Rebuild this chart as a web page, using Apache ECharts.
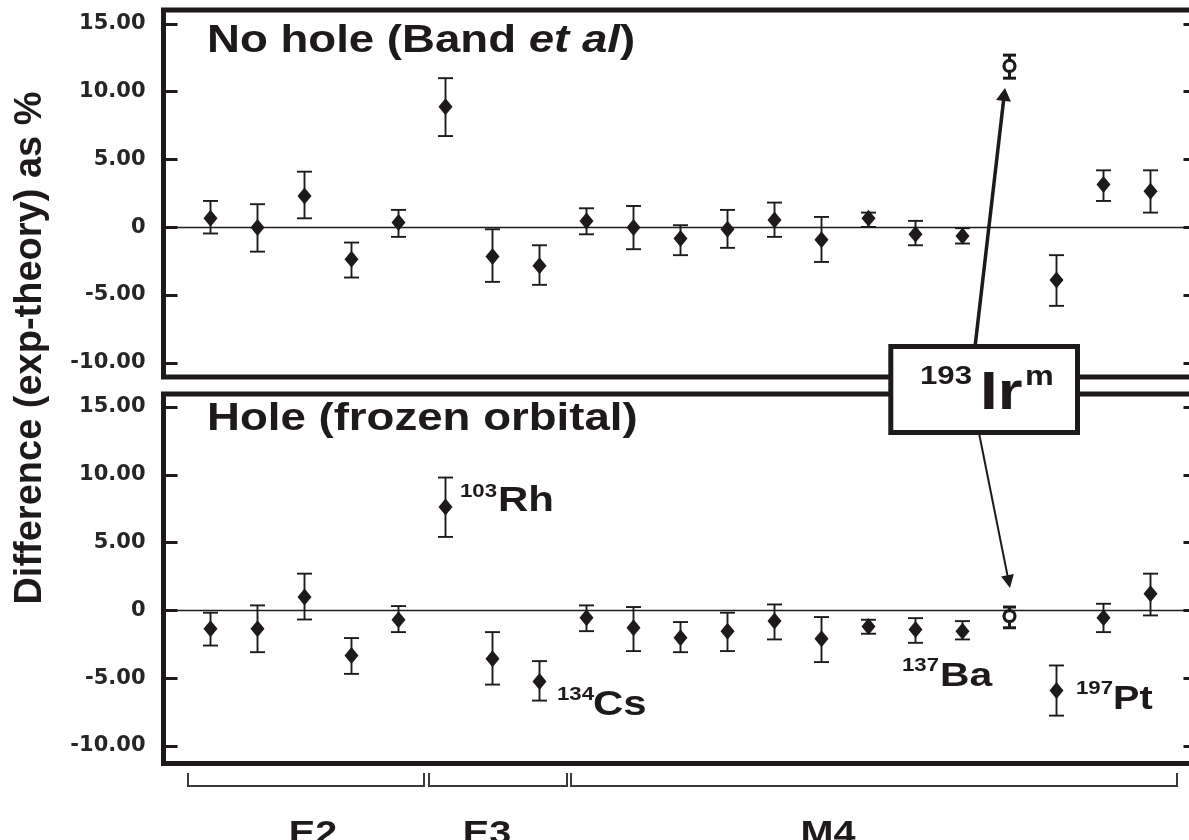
<!DOCTYPE html>
<html>
<head>
<meta charset="utf-8">
<script src="https://cdn.jsdelivr.net/npm/echarts@6/dist/echarts.min.js"></script>
<style>
html,body{margin:0;padding:0;background:#ffffff;}
#c{width:1189px;height:840px;}
</style>
</head>
<body>
<div id="c"></div>
<script>
// ---------------- data ----------------
const nuclideIndex = [1,2,3,4,5,6,7,8,9,10,11,12,13,14,15,16,17,18,19,20,21];
// top panel: No hole (Band et al)
const noHoleValue = [0.66,-0.02,2.30,-2.36,0.35,8.90,-2.16,-2.85,0.47,-0.02,-0.83,-0.15,0.54,-0.93,0.66,-0.52,-0.64,11.90,-3.90,3.15,2.65];
const noHoleHigh  = [1.94,1.70,4.10,-1.13,1.28,11.00,-0.15,-1.33,1.40,1.57,0.15,1.28,1.82,0.76,1.08,0.47,-0.07,12.70,-2.06,4.20,4.20];
const noHoleLow   = [-0.46,-1.80,0.66,-3.71,-0.71,6.73,-4.03,-4.25,-0.52,-1.62,-2.06,-1.52,-0.71,-2.56,0.02,-1.33,-1.20,11.00,-5.80,1.94,1.08];
// bottom panel: Hole (frozen orbital)
const holeValue = [-1.35,-1.35,0.98,-3.33,-0.69,7.63,-3.57,-5.25,-0.54,-1.28,-2.02,-1.53,-0.79,-2.09,-1.18,-1.40,-1.53,-0.42,-5.91,-0.54,1.23];
const holeHigh  = [-0.17,0.37,2.71,-2.04,0.32,9.80,-1.60,-3.74,0.37,0.25,-0.86,-0.17,0.44,-0.49,-0.69,-0.57,-0.79,0.25,-4.06,0.49,2.71];
const holeLow   = [-2.59,-3.08,-0.67,-4.68,-1.60,5.42,-5.47,-6.65,-1.53,-3.00,-3.08,-3.00,-2.14,-3.81,-1.72,-2.39,-2.14,-1.28,-7.76,-1.60,-0.37];
const openPointIndex = 18; // 193Ir^m, drawn as an open circle
const yTicks = [-10, -5, 0, 5, 10, 15];
const panelTitles = ['No hole (Band ', 'et al', ')', 'Hole (frozen orbital)'];
const yAxisTitle = 'Difference (exp-theory) as %';
const groupNames = ['E2', 'E3', 'M4'];
const isotopeLabels = [['103','Rh'], ['134','Cs'], ['137','Ba'], ['197','Pt']];
const boxLabel = ['193', 'Ir', 'm'];

// ---------------- styles ----------------
const ink = '#1e1a1b';
const FF = '"Liberation Sans", Arial, sans-serif';
const SX = 1.2; // horizontal stretch of the reference text

function diamonds(vals) {
  return nuclideIndex.filter(i => i !== openPointIndex).map(i => [i, vals[i - 1]]);
}
function openPts(vals) {
  return [[openPointIndex, vals[openPointIndex - 1]]];
}
function errData(lo, hi) {
  return nuclideIndex.map(i => [i, lo[i - 1], hi[i - 1]]);
}
function renderErr(params, api) {
  const x = api.value(0), lo = api.value(1), hi = api.value(2);
  const pLo = api.coord([x, lo]), pHi = api.coord([x, hi]);
  const isOpen = x === openPointIndex;
  const hw = isOpen ? 6.5 : 7.5;
  const lw = isOpen ? 3 : 1.9;
  const st = {stroke: ink, lineWidth: lw};
  return {type: 'group', children: [
    {type: 'line', shape: {x1: pLo[0], y1: pLo[1], x2: pHi[0], y2: pHi[1]}, style: st},
    {type: 'line', shape: {x1: pLo[0] - hw, y1: pLo[1], x2: pLo[0] + hw, y2: pLo[1]}, style: st},
    {type: 'line', shape: {x1: pHi[0] - hw, y1: pHi[1], x2: pHi[0] + hw, y2: pHi[1]}, style: st}
  ]};
}
function yAxisDef(gi, pos, min, max) {
  return {
    gridIndex: gi, type: 'value', position: pos, min: min, max: max,
    axisLine: {show: false},
    splitLine: {show: false},
    axisTick: {show: true, inside: true, length: 14, customValues: yTicks, lineStyle: {color: ink, width: 3}},
    axisLabel: {
      show: pos === 'left', customValues: yTicks, margin: 18,
      fontFamily: '"DejaVu Sans", sans-serif', fontWeight: 'bold', fontSize: 21, color: '#262626',
      formatter: v => (v === 0 ? '0' : v.toFixed(2))
    }
  };
}
function panelSeries(gi, vals, lo, hi) {
  return [
    {
      type: 'custom', xAxisIndex: gi, yAxisIndex: gi * 2, renderItem: renderErr,
      data: errData(lo, hi), encode: {x: 0, y: [1, 2]}, z: 2, silent: true,
      markLine: {
        silent: true, symbol: 'none', label: {show: false},
        lineStyle: {color: ink, width: 1.3, type: 'solid'},
        data: [{yAxis: 0}]
      }
    },
    {
      type: 'scatter', xAxisIndex: gi, yAxisIndex: gi * 2, data: diamonds(vals),
      symbol: 'diamond', symbolSize: [14, 17], itemStyle: {color: ink, opacity: 1}, z: 3, silent: true
    },
    {
      type: 'scatter', xAxisIndex: gi, yAxisIndex: gi * 2, data: openPts(vals),
      symbol: 'circle', symbolSize: 11,
      itemStyle: {color: '#ffffff', borderColor: ink, borderWidth: 3.2, opacity: 1}, z: 4, silent: true
    }
  ];
}

// annotation helpers
function txt(x, y, text, size, opts) {
  opts = opts || {};
  return {
    type: 'text', x: x, y: y, scaleX: opts.noScale ? 1 : SX, rotation: opts.rotation || 0, z: 20,
    style: {
      text: text, fill: ink, textAlign: opts.align || 'left', textVerticalAlign: 'middle',
      font: (opts.italic ? 'italic ' : '') + 'bold ' + size + 'px ' + FF
    }
  };
}
function arrow(x1, y1, x2, y2, lw, L, W) {
  const dx = x2 - x1, dy = y2 - y1, len = Math.hypot(dx, dy);
  const ux = dx / len, uy = dy / len, px = -uy, py = ux;
  const bx = x2 - ux * L, by = y2 - uy * L;
  return [
    {type: 'line', z: 15, shape: {x1: x1, y1: y1, x2: bx + ux * 2, y2: by + uy * 2}, style: {stroke: ink, lineWidth: lw}},
    {type: 'polygon', z: 15, shape: {points: [[x2, y2], [bx + px * W, by + py * W], [bx - px * W, by - py * W]]}, style: {fill: ink}}
  ];
}
function bracket(xa, xb) {
  return {type: 'polyline', z: 10, shape: {points: [[xa, 773], [xa, 786], [xb, 786], [xb, 773]]},
    style: {stroke: '#3a3a3a', lineWidth: 2, fill: null}};
}

const graphics = [].concat(
  // y axis title
  [txt(31, 348, yAxisTitle, 38, {noScale: true, rotation: Math.PI / 2, align: 'center'})],
  // panel titles
  [{
    type: 'text', x: 207, y: 42, scaleX: SX, z: 20,
    style: {
      text: '{a|' + panelTitles[0] + '}{b|' + panelTitles[1] + '}{a|' + panelTitles[2] + '}',
      textVerticalAlign: 'middle',
      rich: {
        a: {fontFamily: FF, fontWeight: 'bold', fontSize: 38, fill: ink},
        b: {fontFamily: FF, fontWeight: 'bold', fontStyle: 'italic', fontSize: 38, fill: ink}
      }
    }
  }],
  [txt(207, 420, panelTitles[3], 38)],
  // isotope labels
  [txt(460, 491.6, isotopeLabels[0][0], 18.5), txt(498, 501, isotopeLabels[0][1], 35)],
  [txt(557, 694.6, isotopeLabels[1][0], 18.5), txt(593, 705, isotopeLabels[1][1], 35)],
  [txt(902, 666, isotopeLabels[2][0], 18.5), txt(940, 676.5, isotopeLabels[2][1], 34)],
  [txt(1076, 689, isotopeLabels[3][0], 18.5), txt(1113, 699.8, isotopeLabels[3][1], 33)],
  // arrows to 193Ir^m points
  arrow(975, 347, 1005, 88, 3.5, 13, 7.5),
  arrow(979, 433, 1010, 588, 2, 13, 6.5),
  // box
  [{type: 'rect', z: 16, shape: {x: 890.8, y: 346.5, width: 186.7, height: 86},
    style: {fill: '#ffffff', stroke: ink, lineWidth: 5}}],
  [txt(920, 377, boxLabel[0], 26), txt(980, 394.6, boxLabel[1], 53), txt(1025, 377.8, boxLabel[2], 27)],
  // multipolarity brackets
  [bracket(188, 424), bracket(429, 567), bracket(571, 1177)],
  [txt(313, 835, groupNames[0], 33, {align: 'center'}),
   txt(487, 835, groupNames[1], 33, {align: 'center'}),
   txt(828, 835, groupNames[2], 33, {align: 'center'})]
);

const chart = echarts.init(document.getElementById('c'), null, {renderer: 'canvas'});
chart.setOption({
  animation: false,
  backgroundColor: '#ffffff',
  grid: [
    {left: 163.5, top: 10, right: -8.5, height: 367, show: true, borderColor: ink, borderWidth: 5,
     backgroundColor: 'transparent', containLabel: false, outerBoundsMode: 'none'},
    {left: 163.5, top: 394, right: -8.5, height: 369.5, show: true, borderColor: ink, borderWidth: 5,
     backgroundColor: 'transparent', containLabel: false, outerBoundsMode: 'none'}
  ],
  xAxis: [
    {gridIndex: 0, type: 'value', min: 0, max: 22, show: false},
    {gridIndex: 1, type: 'value', min: 0, max: 22, show: false}
  ],
  yAxis: [
    yAxisDef(0, 'left', -11.05, 16.03),
    yAxisDef(0, 'right', -11.05, 16.03),
    yAxisDef(1, 'left', -11.29, 15.96),
    yAxisDef(1, 'right', -11.29, 15.96)
  ],
  series: [].concat(
    panelSeries(0, noHoleValue, noHoleLow, noHoleHigh),
    panelSeries(1, holeValue, holeLow, holeHigh)
  ),
  graphic: graphics
});
</script>
</body>
</html>
